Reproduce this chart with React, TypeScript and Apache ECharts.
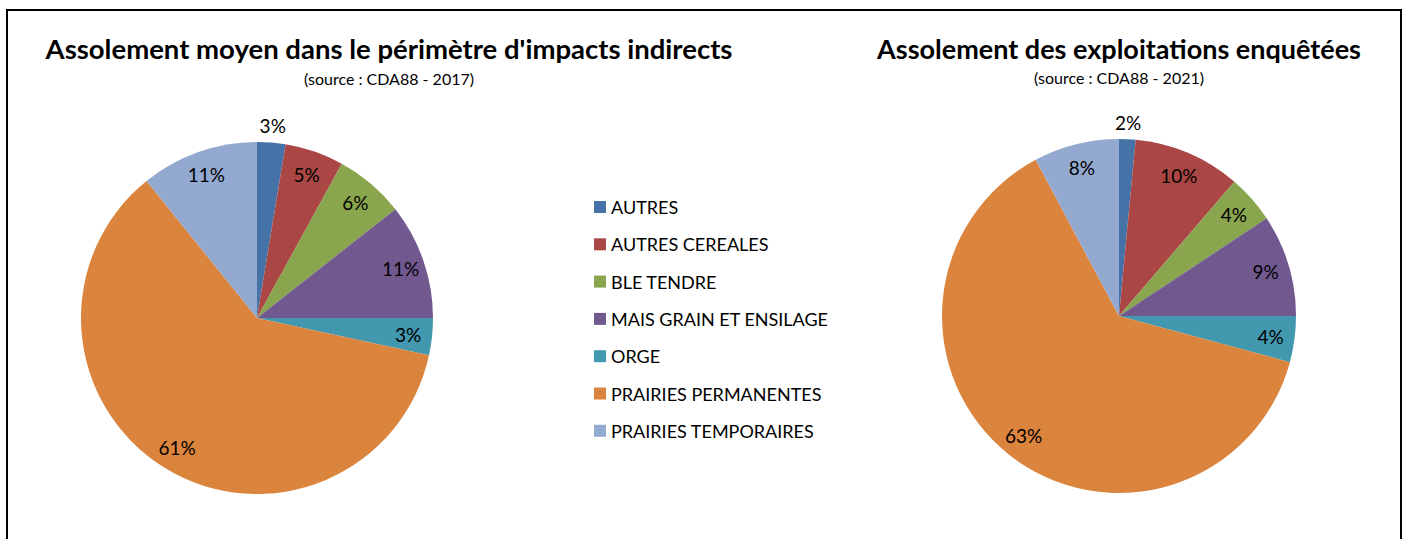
import React, { useEffect, useRef } from "react";
import * as echarts from "echarts";

const categories = [
  "AUTRES",
  "AUTRES CEREALES",
  "BLE TENDRE",
  "MAIS GRAIN ET ENSILAGE",
  "ORGE",
  "PRAIRIES PERMANENTES",
  "PRAIRIES TEMPORAIRES",
];
const colors = ["#4572A7", "#AA4643", "#89A54E", "#71588F", "#4198AF", "#DB843D", "#93A9CF"];
const values2017 = [2.6, 5.4, 6.4, 10.6, 3.4, 60.8, 10.8];
const values2021 = [1.5, 9.8, 4.4, 9.3, 4.2, 63.0, 7.8];
const outsideLabelIndex = 0;

const title1 = "Assolement moyen dans le périmètre d'impacts indirects";
const sub1 = "(source : CDA88 - 2017)";
const title2 = "Assolement des exploitations enquêtées";
const sub2 = "(source : CDA88 - 2021)";

const FONT = "Lato";

function buildSeries(values: number[], center: [number, number], r: number, idx: number) {
  const data = values.map((v, i) => ({ name: categories[i], value: v }));
  const fmt = (p: any) => Math.round(p.percent) + "%";
  const labelStyle = { color: "#000", fontSize: 19, fontFamily: FONT };
  return [
    {
      type: "pie",
      name: "pie" + idx,
      center,
      radius: [0, r],
      startAngle: 90,
      clockwise: true,
      silent: true,
      label: { show: false },
      labelLine: { show: false },
      itemStyle: { borderWidth: 0 },
      data,
    },
    {
      type: "pie",
      name: "inner" + idx,
      center,
      radius: [r - 54, r],
      startAngle: 90,
      clockwise: true,
      silent: true,
      legendHoverLink: false,
      itemStyle: { color: "transparent", borderWidth: 0 },
      labelLine: { show: false },
      data: data.map((d, i) => ({
        ...d,
        label: { show: i !== outsideLabelIndex, position: "inside", formatter: fmt, ...labelStyle },
      })),
    },
    {
      type: "pie",
      name: "outer" + idx,
      center,
      radius: [r + 2, r + 26],
      startAngle: 90,
      clockwise: true,
      silent: true,
      itemStyle: { color: "transparent", borderWidth: 0 },
      labelLine: { show: false },
      data: data.map((d, i) => ({
        ...d,
        label: { show: i === outsideLabelIndex, position: "inside", formatter: fmt, ...labelStyle },
      })),
    },
  ];
}

export default function App() {
  const ref = useRef<HTMLDivElement>(null);
  useEffect(() => {
    if (!ref.current) return;
    const chart = echarts.init(ref.current, undefined, { renderer: "svg" });
    chart.setOption({
      animation: false,
      color: colors,
      legend: {
        orient: "vertical",
        left: 594,
        top: 197,
        padding: 0,
        itemWidth: 12,
        itemHeight: 12,
        itemGap: 17.3,
        icon: "rect",
        selectedMode: false,
        data: categories,
        textStyle: { fontSize: 18, lineHeight: 20, color: "#000", fontFamily: FONT },
      },
      graphic: [
        {
          type: "rect",
          shape: { x: 7, y: 10, width: 1394, height: 600 },
          style: { fill: "none", stroke: "#000", lineWidth: 2 },
        },
        {
          type: "text",
          x: 389,
          y: 48,
          style: {
            text: title1,
            textAlign: "center",
            textVerticalAlign: "middle",
            fontSize: 27.5,
            fontWeight: "bold",
            fontFamily: FONT,
            fill: "#000",
          },
        },
        {
          type: "text",
          x: 389,
          y: 78,
          style: {
            text: sub1,
            textAlign: "center",
            textVerticalAlign: "middle",
            fontSize: 16,
            fontFamily: FONT,
            fill: "#000",
          },
        },
        {
          type: "text",
          x: 1119,
          y: 48,
          style: {
            text: title2,
            textAlign: "center",
            textVerticalAlign: "middle",
            fontSize: 27,
            fontWeight: "bold",
            fontFamily: FONT,
            fill: "#000",
          },
        },
        {
          type: "text",
          x: 1119,
          y: 77,
          style: {
            text: sub2,
            textAlign: "center",
            textVerticalAlign: "middle",
            fontSize: 16,
            fontFamily: FONT,
            fill: "#000",
          },
        },
      ],
      series: [
        ...buildSeries(values2017, [257, 318], 176, 1),
        ...buildSeries(values2021, [1119, 316], 177, 2),
      ],
    });
    return () => chart.dispose();
  }, []);
  return (
    <div
      ref={ref}
      style={{ position: "fixed", left: 0, top: 0, width: 1409, height: 539, background: "#fff" }}
    />
  );
}
